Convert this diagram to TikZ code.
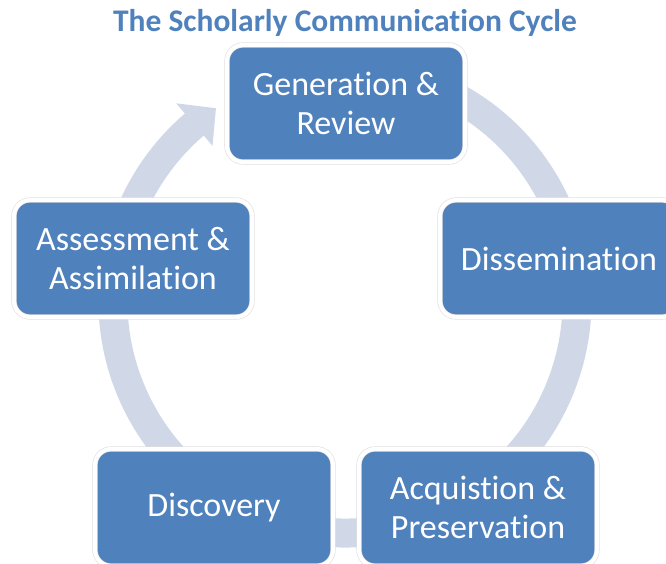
\documentclass[tikz,border=0pt]{standalone}
\usepackage{fontspec}
\setmainfont[Ligatures=NoCommon]{Carlito}
\usetikzlibrary{calc, arrows.meta, positioning}
\definecolor{boxblue}{HTML}{4F81BD}
\definecolor{ringblue}{HTML}{D0D8E8}

\begin{document}
\begin{tikzpicture}[x=1pt, y=1pt,
    block/.style={draw=black!13, line width=0.6pt, double=white, double distance=4pt,
                  fill=boxblue, rounded corners=16pt,
                  minimum width=238pt, minimum height=117pt, inner sep=0pt,
                  align=center, text=white, font=\fontsize{34}{39}\selectfont},
    ring/.style={ringblue, line width=29pt},
    title/.style={text=boxblue, font=\bfseries\fontsize{31.5}{36}\selectfont}
  ]
  \useasboundingbox (0,0) rectangle (666,563);
  \clip (0,0) rectangle (666,563);

  % Cycle ring
  \coordinate (ctr) at (345,262);
  \draw[ring] (ctr) ++(75:232) arc[start angle=75, end angle=-230, radius=232];
  \fill[ringblue] ($(ctr)+(130.5:260)$) -- ($(ctr)+(123.8:232)$) -- ($(ctr)+(130.5:204)$) -- cycle;

  % Title
  \node[title] (title) at (345,540) {The Scholarly Communication Cycle};

  % Nodes
  \node[block] (gen)    at (346,459.5) {Generation \&\\Review};
  \node[block] (diss)   at (559,304.5) {Dissemination};
  \node[block] (acq)    at (478,55.5)  {Acquistion \&\\Preservation};
  \node[block] (disc)   at (214,55.5)  {Discovery};
  \node[block] (assess) at (133,304.5) {Assessment \&\\Assimilation};
\end{tikzpicture}
\end{document}
